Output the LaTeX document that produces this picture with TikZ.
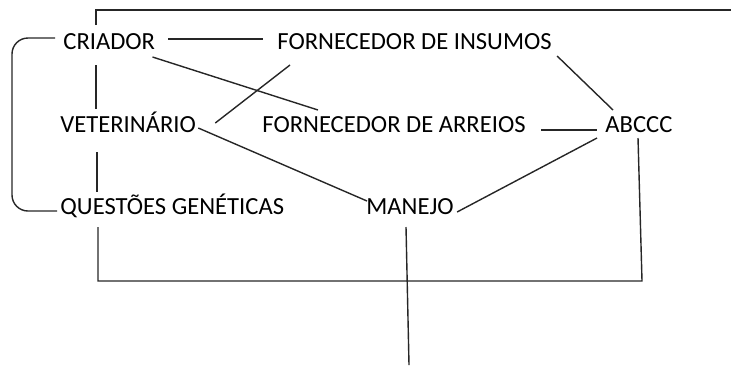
\documentclass[tikz,border=0pt]{standalone}
\usepackage{fontspec}
\setmainfont{Carlito}
\usetikzlibrary{calc}
\begin{document}
\begin{tikzpicture}[x=0.5pt, y=-0.5pt,
  every node/.style = {anchor=west, inner sep=0pt,
     font=\fontsize{12.3pt}{14pt}\selectfont, text height=7.9pt, text depth=0pt},
  lien/.style = {line width=0.7pt, draw=black!85}]
\useasboundingbox (0,0) rectangle (731,365);
\node (criador) at (63,42) {CRIADOR};
\node (insumos) at (277,42) {FORNECEDOR DE INSUMOS};
\node (vet) at (60,125) {VETERINÁRIO};
\node (arreios) at (262,125) {FORNECEDOR DE ARREIOS};
\node (abccc) at (605,125) {ABCCC};
\node (genetica) at (60,207) {QUESTÕES GENÉTICAS};
\node (manejo) at (366,207) {MANEJO};
\coordinate (topR) at (731,10);
\coordinate (botR) at (642,281);
\coordinate (botL) at (98,281);
\coordinate (fim) at (409,365);
\draw[lien] ($(criador.west)+(33,-17)$) |- (topR);
\draw[lien] ($(criador.east)+(13,-3)$) -- ($(insumos.west)+(-14,-3)$);
\draw[lien, rounded corners=8pt] ($(criador.west)+(-8,-4)$) -| ($(genetica.west)+(-48,4)$)
  -- ($(genetica.west)+(-3,4)$);
\draw[lien] ($(criador.west)+(33,23)$) -- ($(vet.west)+(36,-16)$);
\draw[lien] ($(criador.east)+(-3,15)$) -- ($(arreios.west)+(56,-15)$);
\draw[lien] ($(insumos.west)+(13,23)$) -- ($(vet.east)+(19,-2)$);
\draw[lien] ($(vet.west)+(37,27)$) -- ($(genetica.west)+(37,-15)$);
\draw[lien] ($(vet.east)+(2,3)$) -- ($(manejo.west)+(1,-6)$);
\draw[lien] ($(insumos.east)+(5,14)$) -- ($(abccc.west)+(8,-15)$);
\draw[lien] ($(arreios.east)+(15,5)$) -- ($(abccc.west)+(-8,5)$);
\draw[lien] ($(abccc.west)+(-8,13)$) -- ($(manejo.east)+(3,5)$);
\draw[lien] ($(abccc.west)+(33,13)$) -- (botR) -- (botL) -- ($(genetica.west)+(38,20)$);
\draw[lien] ($(manejo.west)+(40,20)$) -- (fim);
\end{tikzpicture}
\end{document}
